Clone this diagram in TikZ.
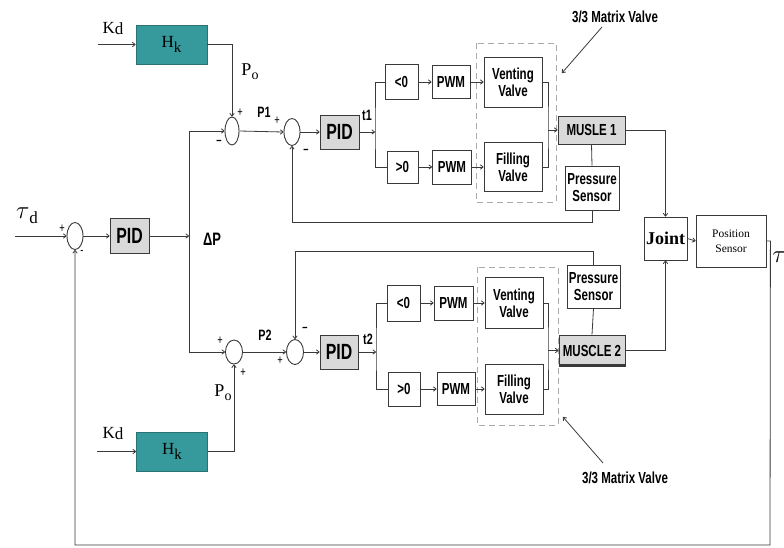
\documentclass[tikz,border=0pt]{standalone}
\usepackage{fontspec}
\setmainfont{Liberation Serif}
\newfontfamily\nar[FakeStretch=0.72]{Liberation Sans}
\usetikzlibrary{arrows.meta,shapes.geometric}
\definecolor{ln}{HTML}{3A3A3A}
\definecolor{tealf}{HTML}{36999B}
\definecolor{teald}{HTML}{2A7374}
\definecolor{gbox}{HTML}{D9D9D9}
\definecolor{dsh}{HTML}{ABABAB}
\begin{document}
\begin{tikzpicture}[x=1pt,y=-1pt,line width=0.8pt,
  blk/.style={draw=ln,line width=0.9pt,inner sep=0,align=center,font=\nar\bfseries\fontsize{16}{16}\selectfont},
  gblk/.style={blk,fill=gbox},
  pidb/.style={gblk,font=\nar\bfseries\fontsize{22}{22}\selectfont},
  sum/.style={ellipse,draw=ln,line width=0.9pt,inner sep=0,minimum width=16,minimum height=27},
  hkb/.style={draw=teald,fill=tealf,inner sep=0,minimum width=71,minimum height=39,font=\fontsize{17}{17}\selectfont},
  arr/.style={draw=ln,-{To[length=3.5pt,width=5pt]}},
  cn/.style={draw=ln},
  lab/.style={inner sep=0,font=\nar\bfseries\fontsize{15}{15}\selectfont},
  sgn/.style={inner sep=0,font=\nar\fontsize{13}{13}\selectfont},
  dashbox/.style={draw=dsh,dashed,dash pattern=on 6pt off 4pt,line width=0.8pt}]
\useasboundingbox (0,0) rectangle (784,547);
\fill[white] (0,0) rectangle (784,547);

% ---- upper and common blocks
\node[sum] (sum0) at (75,236) {};
\node[pidb,minimum width=39,minimum height=35] (pid0) at (129.5,236) {PID};
\node[hkb] (hk1) at (171.5,44.5) {H\raisebox{-5pt}{\fontsize{15}{15}\selectfont k}};
\node[sum,minimum width=14,minimum height=28] (s1) at (232,131) {};
\node[sum] (s2) at (292,132) {};
\node[pidb,minimum width=39,minimum height=34] (pid1) at (339.5,132) {PID};
\node[blk,minimum width=33,minimum height=35] (lt1) at (401.5,82) {<0};
\node[blk,minimum width=38,minimum height=33] (pwm1a) at (451,82) {PWM};
\node[blk,minimum width=58,minimum height=50] (vv1) at (513,82) {Venting\\[1pt]Valve};
\node[blk,minimum width=31,minimum height=32] (gt1) at (402.5,167) {>0};
\node[blk,minimum width=39,minimum height=34] (pwm1b) at (452,167) {PWM};
\node[blk,minimum width=58,minimum height=49] (fv1) at (513,167) {Filling\\[1pt]Valve};
\node[gblk,minimum width=67,minimum height=28] (m1) at (591.5,130) {MUSLE 1};
\node[blk,minimum width=54,minimum height=44] (ps1) at (592,188) {Pressure\\[1pt]Sensor};
\node[draw=ln,line width=0.9pt,inner sep=0,minimum width=43,minimum height=43,font=\bfseries\fontsize{18}{18}\selectfont] (joint) at (665.5,238.5) {Joint};
\node[draw=ln,line width=0.8pt,inner sep=0,minimum width=70,minimum height=52,align=center,font=\fontsize{11.5}{12}\selectfont] (pos) at (731,241) {Position\\[3pt]Sensor};

% ---- lower blocks
\node[sum,minimum width=17,minimum height=24] (s3) at (234,352) {};
\node[sum,minimum width=17,minimum height=25] (s4) at (295,352) {};
\node[pidb,minimum width=38,minimum height=34] (pid2) at (339,352) {PID};
\node[blk,minimum width=33,minimum height=36] (lt2) at (403.5,303) {<0};
\node[blk,minimum width=39,minimum height=34] (pwm2a) at (453.5,303) {PWM};
\node[blk,minimum width=58,minimum height=51] (vv2) at (514,303) {Venting\\[1pt]Valve};
\node[blk,minimum width=32,minimum height=34] (gt2) at (404,389) {>0};
\node[blk,minimum width=38,minimum height=33] (pwm2b) at (456,389) {PWM};
\node[blk,minimum width=58,minimum height=50] (fv2) at (514,389) {Filling\\[1pt]Valve};
\node[gblk,minimum width=66,minimum height=31] (m2) at (592,350.5) {MUSCLE 2};
\draw[ln,line width=2pt] ([yshift=1pt]m2.south west) -- ([yshift=1pt]m2.south east);
\node[blk,minimum width=53,minimum height=43] (ps2) at (593.5,286.5) {Pressure\\[1pt]Sensor};
\node[hkb] (hk2) at (172,451.5) {H\raisebox{-5pt}{\fontsize{15}{15}\selectfont k}};

% ---- dashed valve groups
\draw[dashbox] (476,43) rectangle (556,202);
\draw[dashbox] (477,267) rectangle (558,425);

% ---- coordinates
\coordinate (tin) at (15,236);
\coordinate (kd1) at (98,44.5);
\coordinate (kd2) at (97,451.5);
\coordinate (jdp) at (189,236);
\coordinate (jtop) at (189,131);
\coordinate (jbot) at (189,352);
\coordinate (b1) at (375,132);
\coordinate (b2) at (376,352);
\coordinate (c1) at (548,130);
\coordinate (c2) at (548,350.5);
\coordinate (fb) at (770,545);

% ---- connectors, upper
\draw[arr] (tin) -- (sum0.west);
\draw[arr] (sum0.east) -- (pid0.west);
\draw[arr] (pid0.east) -- (jdp);
\draw[cn] (jtop) -- (jbot);
\draw[arr] (jtop) -- (s1.west);
\draw[arr] (kd1) -- (hk1.west);
\draw[arr] (hk1.east) -| (s1.north);
\draw[arr] (s1.east) -- (s2.west);
\draw[arr] (s2.east) -- (pid1.west);
\draw[arr] (pid1.east) -- (b1);
\draw[cn] (lt1.west) -| (b1) |- (gt1.west);
\draw[arr] (lt1.east) -- (pwm1a.west);
\draw[arr] (pwm1a.east) -- (vv1.west);
\draw[arr] (gt1.east) -- (pwm1b.west);
\draw[arr] (pwm1b.east) -- (fv1.west);
\draw[cn] (vv1.east) -| (c1) |- (fv1.east);
\draw[arr] (c1) -- (m1.west);
\draw[cn] (m1.south) -- (ps1.north);
\draw[arr] (ps1.south) -- ++(0,12) -| (s2.south);
\draw[arr] (m1.east) -| (joint.north);
\draw[arr] (joint.east) -- (pos.west);
\draw[arr] (pos.east) -- ++(4,0) -- (fb) -| (sum0.south);

% ---- connectors, lower
\draw[arr] (jbot) -- (s3.west);
\draw[arr] (kd2) -- (hk2.west);
\draw[arr] (hk2.east) -| (s3.south);
\draw[arr] (s3.east) -- (s4.west);
\draw[arr] (s4.east) -- (pid2.west);
\draw[arr] (pid2.east) -- (b2);
\draw[cn] (lt2.west) -| (b2) |- (gt2.west);
\draw[arr] (lt2.east) -- (pwm2a.west);
\draw[arr] (pwm2a.east) -- (vv2.west);
\draw[arr] (gt2.east) -- (pwm2b.west);
\draw[arr] (pwm2b.east) -- (fv2.west);
\draw[cn] (vv2.east) -| (c2) |- (fv2.east);
\draw[arr] (c2) -- (m2.west);
\draw[cn] (ps2.south) -- (m2.north);
\draw[arr] (ps2.north) -- ++(0,-13) -| (s4.north);
\draw[arr] (m2.east) -| (joint.south);

% ---- labels
\node[inner sep=0,font=\fontsize{24}{24}\selectfont] (taud) at (27,216) {$\tau$\raisebox{-5pt}{\fontsize{17}{17}\selectfont d}};
\node[inner sep=0,font=\fontsize{24}{24}\selectfont] (tau) at (779,257) {$\tau$};
\node[inner sep=0,font=\fontsize{17}{17}\selectfont] (kdl1) at (113,29) {K\raisebox{-1pt}{d}};
\node[inner sep=0,font=\fontsize{17}{17}\selectfont] (kdl2) at (113,434) {K\raisebox{-1pt}{d}};
\node[inner sep=0,font=\fontsize{18}{18}\selectfont] (po1) at (250,72) {P\raisebox{-4pt}{\fontsize{14}{14}\selectfont o}};
\node[inner sep=0,font=\fontsize{18}{18}\selectfont] (po2) at (223,393) {P\raisebox{-4pt}{\fontsize{14}{14}\selectfont o}};
\node[lab,font=\nar\bfseries\fontsize{18}{18}\selectfont] (dp) at (212,239) {ΔP};
\node[lab] (p1) at (264,112) {P1};
\node[lab] (p2) at (265,335) {P2};
\node[lab] (t1) at (367,115) {t1};
\node[lab] (t2) at (368,339) {t2};
\node[sgn] at (62,229) {+};
\node[sgn] at (82,253) {-};
\node[sgn] at (240,113) {+};
\node[sgn] at (219,142) {\bfseries –};
\node[sgn] at (277,121) {+};
\node[sgn] at (306,151) {\bfseries –};
\node[sgn] at (220,341) {+};
\node[sgn] at (243,373) {+};
\node[sgn] at (280,361) {+};
\node[sgn] at (305,329) {\bfseries –};
\node[lab,font=\nar\bfseries\fontsize{16}{16}\selectfont] (mv1) at (615,17) {3/3 Matrix Valve};
\node[lab,font=\nar\bfseries\fontsize{16}{16}\selectfont] (mv2) at (625,478) {3/3 Matrix Valve};
\coordinate (mv1a) at (602,27);
\coordinate (mv1b) at (562,73);
\coordinate (mv2a) at (603,463);
\coordinate (mv2b) at (563,417);
\draw[arr] (mv1a) -- (mv1b);
\draw[arr] (mv2a) -- (mv2b);
\end{tikzpicture}
\end{document}
